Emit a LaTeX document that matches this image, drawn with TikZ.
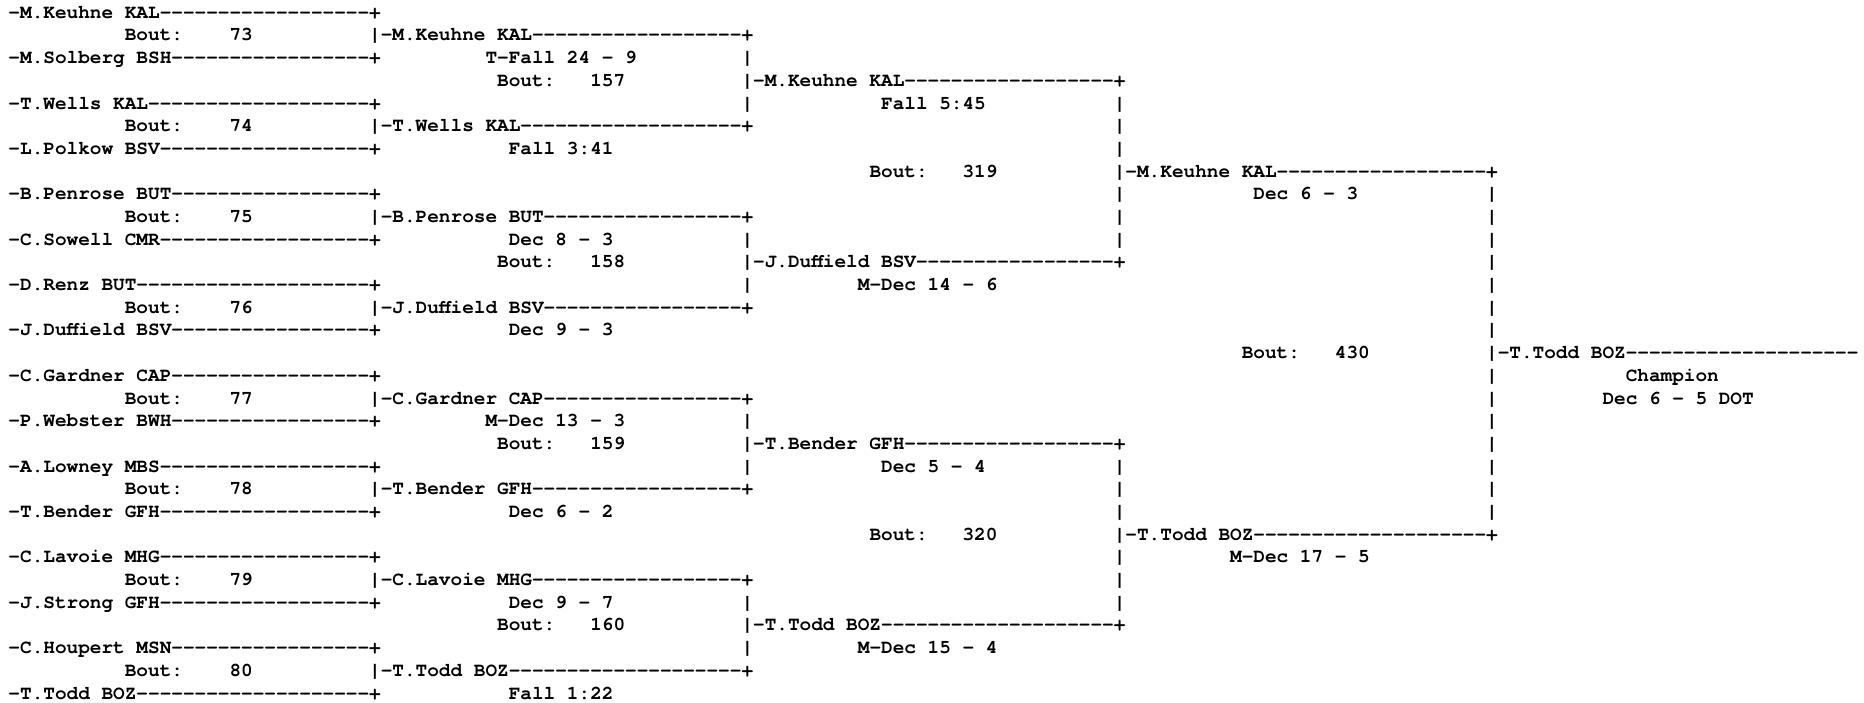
\documentclass[tikz,border=0pt]{standalone}
\usepackage{fontspec}
\setmonofont{texgyrecursor}[Extension=.otf, UprightFont=*-regular, BoldFont=*-bold]
\frenchspacing

\newcommand{\bracketfont}{\ttfamily\bfseries\fontsize{9.6958pt}{11.345pt}\selectfont}
\newcommand{\wrestler}[1]{\setbox0\hbox{-}\hbox to 31\wd0{-#1\kern-0.3\wd0\leaders\hbox{-}\hfill}}
\newcommand{\boutlabel}[4]{%
  \node[line text] (#1) at (#2, #3) {Bout:};
  \node[bout number] (#1_num) at (#2+11, #3) {#4};}

\tikzstyle{line text}=[anchor=base west, inner sep=0pt, outer sep=0pt, font=\bracketfont]
\tikzstyle{bout number}=[line text, anchor=base east]
\tikzstyle{bar}=[line text]

\begin{document}
\begin{tikzpicture}[x=5.8175pt, y=-11.345pt]
    \fill[white] (-0.7306, -0.8065) rectangle (159.476, 30.176);
    \useasboundingbox (-0.7306, -0.8065) rectangle (159.476, 30.176);

    % round 1
    \foreach \who [count=\i from 0] in {M.Keuhne KAL, M.Solberg BSH, T.Wells KAL, L.Polkow BSV,
        B.Penrose BUT, C.Sowell CMR, D.Renz BUT, J.Duffield BSV, C.Gardner CAP, P.Webster BWH,
        A.Lowney MBS, T.Bender GFH, C.Lavoie MHG, J.Strong GFH, C.Houpert MSN, T.Todd BOZ}
      \node[line text] (first_\i) at (0, 2*\i) {\wrestler{\who}+};
    \foreach \n [count=\i from 0] in {73, 74, 75, 76, 77, 78, 79, 80}
      {\boutlabel{bout_\n}{10}{4*\i+1}{\n}}
    \foreach \r in {1, 5, ..., 29}
      \node[bar] (bar_a\r) at (31, \r) {|};

    % round 2
    \foreach \who [count=\i from 0] in {M.Keuhne KAL, T.Wells KAL, B.Penrose BUT, J.Duffield BSV,
        C.Gardner CAP, T.Bender GFH, C.Lavoie MHG, T.Todd BOZ}
      \node[line text] (second_\i) at (32, 4*\i+1) {\wrestler{\who}+};
    \node[line text] (result_b0) at (41, 2) {T-Fall 24 - 9};
    \node[line text] (result_b1) at (43, 6) {Fall 3:41};
    \node[line text] (result_b2) at (43, 10) {Dec 8 - 3};
    \node[line text] (result_b3) at (43, 14) {Dec 9 - 3};
    \node[line text] (result_b4) at (41, 18) {M-Dec 13 - 3};
    \node[line text] (result_b5) at (43, 22) {Dec 6 - 2};
    \node[line text] (result_b6) at (43, 26) {Dec 9 - 7};
    \node[line text] (result_b7) at (43, 30) {Fall 1:22};
    \foreach \n [count=\i from 0] in {157, 158, 159, 160}
      {\boutlabel{bout_\n}{42}{8*\i+3}{\n}}
    \foreach \r in {2, 3, 4, 10, 11, 12, 18, 19, 20, 26, 27, 28}
      \node[bar] (bar_b\r) at (63, \r) {|};

    % round 3
    \foreach \who [count=\i from 0] in {M.Keuhne KAL, J.Duffield BSV, T.Bender GFH, T.Todd BOZ}
      \node[line text] (third_\i) at (64, 8*\i+3) {\wrestler{\who}+};
    \node[line text] (result_c0) at (75, 4) {Fall 5:45};
    \node[line text] (result_c1) at (73, 12) {M-Dec 14 - 6};
    \node[line text] (result_c2) at (75, 20) {Dec 5 - 4};
    \node[line text] (result_c3) at (73, 28) {M-Dec 15 - 4};
    \boutlabel{bout_319}{74}{7}{319}
    \boutlabel{bout_320}{74}{23}{320}
    \foreach \r in {4, 5, 6, 7, 8, 9, 10, 20, 21, 22, 23, 24, 25, 26}
      \node[bar] (bar_c\r) at (95, \r) {|};

    % round 4
    \node[line text] (fourth_0) at (96, 7) {\wrestler{M.Keuhne KAL}+};
    \node[line text] (fourth_1) at (96, 23) {\wrestler{T.Todd BOZ}+};
    \node[line text] (result_d0) at (107, 8) {Dec 6 - 3};
    \node[line text] (result_d1) at (105, 24) {M-Dec 17 - 5};
    \boutlabel{bout_430}{106}{15}{430}
    \foreach \r in {8, ..., 22}
      \node[bar] (bar_d\r) at (127, \r) {|};

    % final
    \node[line text] (champion) at (128, 15) {\wrestler{T.Todd BOZ}};
    \node[line text] (champion_title) at (139, 16) {Champion};
    \node[line text] (champion_result) at (137, 17) {Dec 6 - 5 DOT};
\end{tikzpicture}
\end{document}
